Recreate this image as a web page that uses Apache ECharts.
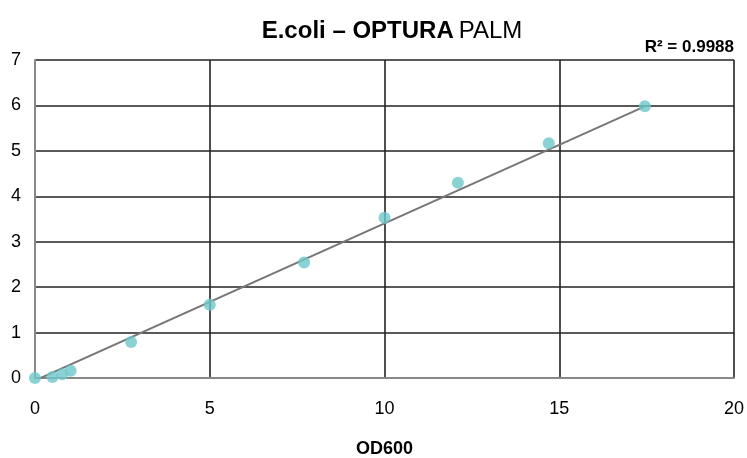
<!DOCTYPE html>
<html><head><meta charset="utf-8">
<script src="https://cdn.jsdelivr.net/npm/echarts@6/dist/echarts.min.js"></script>
<style>html,body{margin:0;padding:0;background:#fff}#c{width:747px;height:458px}</style>
</head><body><div id="c"></div>
<script>
const odValues = [0, 0.5, 0.78, 1.02, 2.75, 5.0, 7.7, 10.0, 12.1, 14.7, 17.45];
const palmValues = [0, 0.02, 0.08, 0.16, 0.79, 1.61, 2.54, 3.53, 4.30, 5.17, 5.98];
const trendX = [0.1, 17.45];
const trendY = [-0.02, 5.98];
const xTicks = [0, 5, 10, 15, 20];
const yTicks = [0, 1, 2, 3, 4, 5, 6, 7];
const r2Text = 'R² = 0.9988';

const chart = echarts.init(document.getElementById('c'));
const font = 'Liberation Sans, Arial, sans-serif';
chart.setOption({
  animation: false,
  title: {
    text: '{b|E.coli – OPTURA} {n|PALM}',
    left: 387, textAlign: 'center', top: 14,
    textStyle: { fontWeight: 'normal', rich: {
      b: { fontFamily: font, fontSize: 24, fontWeight: 'bold', color: '#000', letterSpacing: -2.3 },
      n: { fontFamily: font, fontSize: 24, fontWeight: 'normal', color: '#000', letterSpacing: -1.5 }
    } }
  },
  graphic: [{
    type: 'text', right: 13, top: 39,
    style: { text: r2Text, fontFamily: font, fontSize: 17, fontWeight: 'bold', fill: '#000', letterSpacing: -1.3 }
  }],
  grid: { left: 35, right: 13, top: 60, bottom: 80, outerBoundsMode: 'none', containLabel: false },
  xAxis: {
    type: 'value', min: 0, max: 20, interval: 5,
    name: 'OD600', nameLocation: 'middle', nameGap: 62,
    nameTextStyle: { fontFamily: font, fontSize: 18, fontWeight: 'bold', color: '#000', letterSpacing: -1.5 },
    axisLine: { show: true, lineStyle: { color: '#888', width: 2 } },
    axisTick: { show: false },
    axisLabel: { fontFamily: font, fontSize: 18, color: '#000', margin: 22,
      formatter: v => xTicks.includes(v) ? String(v) : '' },
    splitLine: { show: true, lineStyle: { color: '#222', width: 1.6 } }
  },
  yAxis: {
    type: 'value', min: 0, max: 7, interval: 1,
    axisLine: { show: true, lineStyle: { color: '#888', width: 2 } },
    axisTick: { show: false },
    axisLabel: { fontFamily: font, fontSize: 18, color: '#000', margin: 14,
      formatter: v => yTicks.includes(v) ? String(v) : '' },
    splitLine: { show: true, lineStyle: { color: '#222', width: 1.6 } }
  },
  series: [
    {
      type: 'line', data: trendX.map((x, i) => [x, trendY[i]]),
      symbol: 'none', lineStyle: { color: '#777', width: 2 }, z: 3
    },
    {
      type: 'scatter', data: odValues.map((x, i) => [x, palmValues[i]]),
      symbolSize: 12, itemStyle: { color: '#6ec7ca' }, z: 4
    }
  ]
});
</script></body></html>
